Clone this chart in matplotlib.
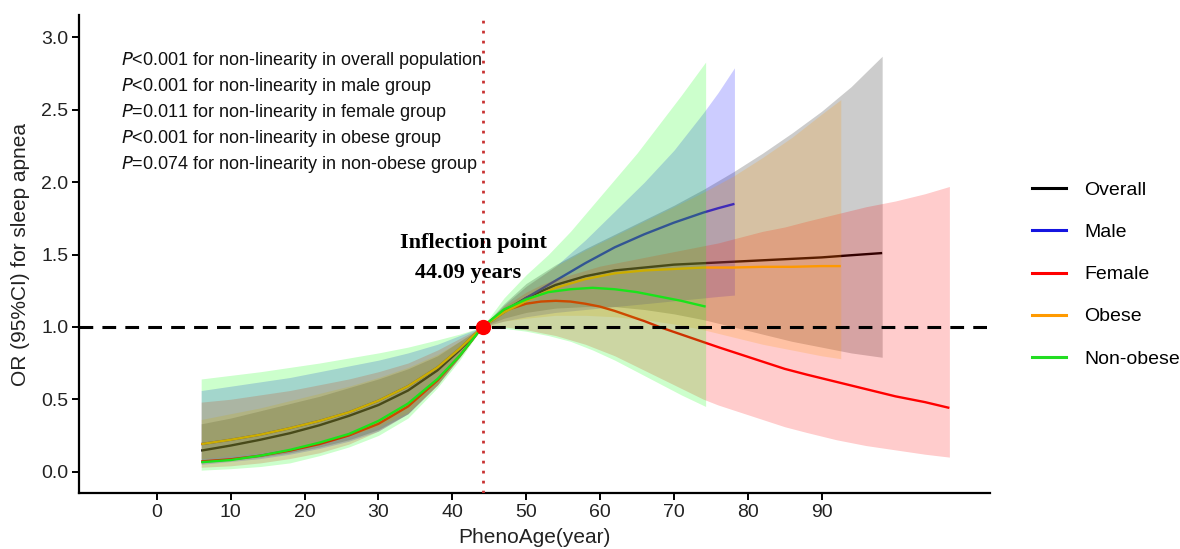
import matplotlib
matplotlib.use("Agg")
import matplotlib.pyplot as plt
from matplotlib.lines import Line2D

plt.rcParams['font.family'] = ['Liberation Sans', 'DejaVu Sans']

# ---------------- data ----------------
inflection = 44.09

overall_x = [6, 10, 14, 18, 22, 26, 30, 34, 38, 41, 44.09, 47, 50, 54, 58, 62, 66, 70, 74, 78, 82, 86, 90, 94, 98.2]
overall_y = [0.145, 0.18, 0.22, 0.265, 0.32, 0.385, 0.46, 0.56, 0.7, 0.84, 1.0, 1.11, 1.2, 1.29, 1.35, 1.39, 1.41, 1.43, 1.44, 1.45, 1.46, 1.47, 1.48, 1.495, 1.51]
overall_lo = [0.06, 0.08, 0.1, 0.13, 0.17, 0.22, 0.29, 0.4, 0.6, 0.79, 1.0, 1.06, 1.1, 1.13, 1.14, 1.14, 1.12, 1.09, 1.05, 1.0, 0.95, 0.9, 0.86, 0.82, 0.79]
overall_hi = [0.33, 0.37, 0.42, 0.47, 0.52, 0.58, 0.64, 0.71, 0.8, 0.9, 1.0, 1.16, 1.3, 1.43, 1.54, 1.64, 1.74, 1.84, 1.95, 2.07, 2.2, 2.34, 2.49, 2.66, 2.87]

male_x = [6, 10, 14, 18, 22, 26, 30, 34, 38, 41, 44.09, 47, 50, 54, 58, 62, 66, 70, 74, 76, 78.2]
male_y = [0.19, 0.22, 0.255, 0.3, 0.35, 0.41, 0.49, 0.59, 0.72, 0.85, 1.0, 1.1, 1.2, 1.32, 1.44, 1.55, 1.64, 1.72, 1.79, 1.82, 1.85]
male_lo = [0.05, 0.07, 0.09, 0.12, 0.16, 0.21, 0.28, 0.4, 0.6, 0.79, 1.0, 1.04, 1.07, 1.1, 1.12, 1.14, 1.16, 1.18, 1.2, 1.21, 1.22]
male_hi = [0.56, 0.59, 0.62, 0.65, 0.69, 0.73, 0.77, 0.82, 0.88, 0.94, 1.0, 1.15, 1.28, 1.42, 1.6, 1.8, 2.0, 2.22, 2.48, 2.62, 2.79]

female_x = [6, 10, 14, 18, 22, 26, 30, 34, 38, 41, 44.09, 47, 50, 52, 54, 56, 58, 60, 62, 64, 66, 68, 70, 72, 74, 76, 79, 82, 85, 88, 92, 96, 100, 104, 107.3]
female_y = [0.07, 0.085, 0.11, 0.145, 0.19, 0.25, 0.33, 0.45, 0.63, 0.8, 1.0, 1.11, 1.16, 1.175, 1.18, 1.175, 1.16, 1.14, 1.11, 1.075, 1.04, 1.0, 0.965, 0.93, 0.895, 0.86, 0.81, 0.76, 0.71, 0.67, 0.62, 0.57, 0.52, 0.48, 0.44]
female_lo = [0.03, 0.04, 0.06, 0.09, 0.13, 0.19, 0.28, 0.4, 0.6, 0.79, 1.0, 1.0, 0.98, 0.96, 0.94, 0.91, 0.88, 0.84, 0.8, 0.75, 0.7, 0.65, 0.6, 0.55, 0.5, 0.46, 0.41, 0.36, 0.31, 0.27, 0.22, 0.18, 0.15, 0.12, 0.10]
female_hi = [0.48, 0.5, 0.53, 0.56, 0.6, 0.64, 0.69, 0.75, 0.84, 0.92, 1.0, 1.14, 1.24, 1.29, 1.33, 1.36, 1.39, 1.42, 1.44, 1.46, 1.48, 1.5, 1.52, 1.54, 1.56, 1.58, 1.62, 1.66, 1.69, 1.73, 1.78, 1.83, 1.87, 1.92, 1.97]

obese_x = [6, 10, 14, 18, 22, 26, 30, 34, 38, 41, 44.09, 47, 50, 54, 58, 62, 66, 70, 74, 78, 82, 86, 90, 92.6]
obese_y = [0.19, 0.22, 0.255, 0.3, 0.35, 0.41, 0.49, 0.59, 0.72, 0.85, 1.0, 1.1, 1.18, 1.27, 1.33, 1.37, 1.39, 1.4, 1.41, 1.41, 1.415, 1.415, 1.42, 1.42]
obese_lo = [0.09, 0.11, 0.13, 0.16, 0.2, 0.25, 0.31, 0.41, 0.6, 0.79, 1.0, 1.04, 1.06, 1.08, 1.08, 1.07, 1.05, 1.02, 0.98, 0.93, 0.88, 0.84, 0.8, 0.78]
obese_hi = [0.36, 0.4, 0.44, 0.49, 0.54, 0.59, 0.65, 0.72, 0.81, 0.9, 1.0, 1.15, 1.28, 1.42, 1.53, 1.63, 1.73, 1.83, 1.93, 2.04, 2.17, 2.31, 2.47, 2.57]

nonobese_x = [6, 10, 14, 18, 22, 26, 30, 34, 38, 41, 44.09, 47, 50, 53, 56, 59, 62, 65, 68, 71, 74.3]
nonobese_y = [0.065, 0.08, 0.11, 0.15, 0.2, 0.26, 0.35, 0.47, 0.64, 0.8, 1.0, 1.12, 1.19, 1.24, 1.26, 1.27, 1.26, 1.24, 1.21, 1.18, 1.14]
nonobese_lo = [0.01, 0.02, 0.035, 0.06, 0.11, 0.17, 0.25, 0.37, 0.58, 0.77, 1.0, 0.99, 0.97, 0.94, 0.9, 0.84, 0.77, 0.69, 0.61, 0.53, 0.45]
nonobese_hi = [0.64, 0.665, 0.69, 0.72, 0.75, 0.785, 0.82, 0.86, 0.91, 0.95, 1.0, 1.2, 1.36, 1.5, 1.66, 1.84, 2.02, 2.2, 2.4, 2.6, 2.83]

labels = ["Overall", "Male", "Female", "Obese", "Non-obese"]
line_colors = ["#000000", "#1515E0", "#FF0000", "#FF9A00", "#22DD22"]
fill_colors = ["#000000", "#0000FF", "#FF0000", "#FF9900", "#00FF00"]

p_texts = [("<0.001", "overall population"),
           ("<0.001", "male group"),
           ("=0.011", "female group"),
           ("<0.001", "obese group"),
           ("=0.074", "non-obese group")]

x_ticks = [0, 10, 20, 30, 40, 50, 60, 70, 80, 90]
y_ticks = [0.0, 0.5, 1.0, 1.5, 2.0, 2.5, 3.0]

groups = [
    (overall_x, overall_y, overall_lo, overall_hi),
    (male_x, male_y, male_lo, male_hi),
    (female_x, female_y, female_lo, female_hi),
    (obese_x, obese_y, obese_lo, obese_hi),
    (nonobese_x, nonobese_y, nonobese_lo, nonobese_hi),
]

# ---------------- figure ----------------
fig = plt.figure(figsize=(11.8, 5.49), dpi=100)
ax = fig.add_axes([79.3 / 1180, 1 - 493.3 / 549, (990 - 79.3) / 1180, (493.3 - 15) / 549])

for (gx, gy, glo, ghi), lc, fc in zip(groups, line_colors, fill_colors):
    ax.plot(gx, gy, color=lc, lw=1.7, solid_capstyle='butt', solid_joinstyle='round', zorder=2)
    ax.fill_between(gx, glo, ghi, color=fc, alpha=0.2, lw=0, zorder=2)

ax.axhline(1.0, color="black", lw=2.2, dashes=(4.5, 3), zorder=3)
ax.axvline(inflection, color="#C83232", lw=2.0, linestyle=(0, (1, 2.6)), zorder=3)
ax.plot([inflection], [1.0], 'o', color="#FF0000", markersize=10, zorder=4)

serif = ['Liberation Serif', 'DejaVu Serif']
ax.text(42.8, 1.58, "Inflection point", ha='center', va='center',
        fontsize=16, fontweight='bold', family=serif, zorder=5)
ax.text(42.2, 1.37, "44.09 years", ha='center', va='center',
        fontsize=16, fontweight='bold', family=serif, zorder=5)

y0 = 2.84
dy = 0.18
for i, (pv, grp) in enumerate(p_texts):
    ax.text(-4.9, y0 - i * dy,
            r"$\mathit{P}$" + pv + " for non-linearity in " + grp,
            ha='left', va='center', fontsize=13, color="#111111", zorder=5)

ax.set_xlim(-10.5, 112.8)
ax.set_ylim(-0.15, 3.155)
ax.set_xticks(x_ticks)
ax.set_yticks(y_ticks)
ax.set_yticklabels([f"{v:.1f}" for v in y_ticks])
for s in ['top', 'right']:
    ax.spines[s].set_visible(False)
for s in ['left', 'bottom']:
    ax.spines[s].set_linewidth(1.6)
ax.tick_params(axis='both', which='major', length=5, width=1.4, labelsize=14,
               labelcolor="#222222", color="black", pad=3)

ax.set_xlabel("PhenoAge(year)", fontsize=15, labelpad=5, color="#222222")
ax.set_ylabel("OR (95%CI) for sleep apnea", fontsize=15, labelpad=8, color="#222222")

handles = [Line2D([0], [0], color=c, lw=2.2) for c in line_colors]
fig.legend(handles, labels, loc='center left', bbox_to_anchor=(1024 / 1180, 1 - 274.5 / 549),
           frameon=False, fontsize=14, handlelength=1.75, handletextpad=0.95,
           labelspacing=1.26, borderaxespad=0)

fig.savefig("out.png", dpi=100)
